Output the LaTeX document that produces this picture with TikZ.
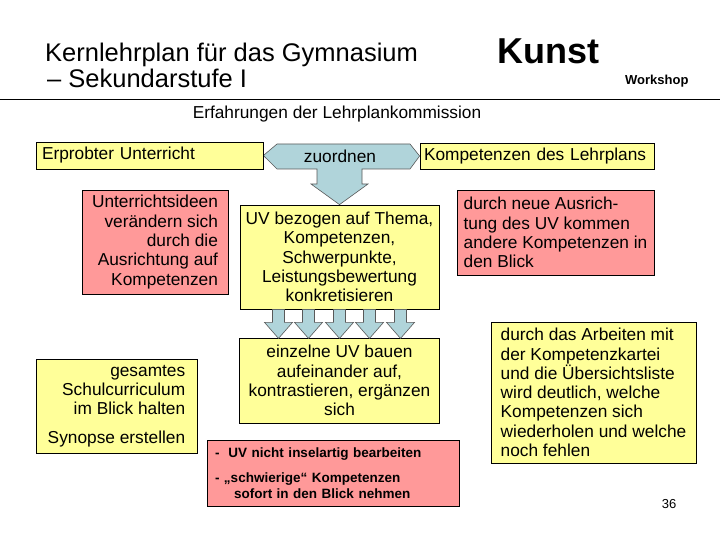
\documentclass[tikz,border=0pt]{standalone}
\usepackage{fontspec}
\setmainfont{Liberation Sans}
\usepackage{tikz}
\usetikzlibrary{positioning, calc, backgrounds}

\definecolor{lpyellow}{HTML}{FFFF99}
\definecolor{lpred}{HTML}{FF9999}
\definecolor{lpblue}{HTML}{B0D4DA}

\begin{document}
\begin{tikzpicture}[
    x=1pt, y=-1pt,
    txt/.style={font=\fontsize{17.3}{19.3}\selectfont},
    ybox/.style={rectangle, draw=black, line width=0.8pt, fill=lpyellow, inner sep=0pt, txt},
    rbox/.style={ybox, fill=lpred},
    plain/.style={inner sep=0pt, anchor=base west},
    blockarr/.style={draw=black!65, fill=lpblue, line width=0.6pt}
]
\useasboundingbox (0,0) rectangle (720,540);

% Header
\node[plain, font=\fontsize{25.5}{28}\selectfont] (title) at (45,62) {Kernlehrplan für das Gymnasium};
\node[plain, font=\fontsize{25.5}{28}\selectfont] (title2) at (47,88) {– Sekundarstufe I};
\node[plain, font=\fontsize{36}{40}\selectfont\bfseries] (kunst) at (497,64) {Kunst};
\node[plain, font=\fontsize{13}{15}\selectfont\bfseries] (workshop) at (625,85) {Workshop};
\draw[line width=0.8pt] (0,99) -- (720,99);
\node[plain, anchor=base, txt] (erfahr) at (337,119) {Erfahrungen der Lehrplankommission};

% Top row
\node[ybox, inner xsep=6pt, text width=215pt, align=left, minimum height=27pt] (erprobt) at (149.5,155.5) {Erprobter Unterricht};
\node[ybox, inner xsep=4pt, text width=226pt, align=left, minimum height=26pt] (komplp) at (537,156) {Kompetenzen des Lehrplans};
\node[txt, inner sep=0pt] (zuordnen) at (340,156) {zuordnen};

% Left column
\node[rbox, align=right, minimum width=146pt, minimum height=104pt] (ideen) at (155,242) {Unterrichtsideen\\verändern sich\\durch die\\Ausrichtung auf\\Kompetenzen};
\node[ybox, align=right, minimum width=161pt, minimum height=94pt] (gesamt) at (116.5,406) {gesamtes\\Schulcurriculum\\im Blick halten\\[9pt]Synopse erstellen};

% Middle column
\node[ybox, align=center, minimum width=199pt, minimum height=104pt] (uv) at (339.5,257) {UV bezogen auf Thema,\\Kompetenzen,\\Schwerpunkte,\\Leistungsbewertung\\konkretisieren};
\node[ybox, align=center, minimum width=200pt, minimum height=85pt] (einzeln) at (339.5,380.5) {einzelne UV bauen\\aufeinander auf,\\kontrastieren, ergänzen\\sich};
\node[rbox, font=\fontsize{13.5}{16}\selectfont\bfseries, inner xsep=8pt, text width=236pt, align=left, minimum height=66pt] (insel) at (333,473) {-\ \ UV nicht inselartig bearbeiten\\[9pt]- „schwierige“ Kompetenzen\\\hspace*{19pt}sofort in den Blick nehmen};

% Right column
\node[rbox, align=left, minimum width=197pt, minimum height=85pt] (neue) at (555.5,232.5) {durch neue Ausrich-\\tung des UV kommen\\andere Kompetenzen in\\den Blick};
\node[ybox, align=left, minimum width=205pt, minimum height=141pt] (kartei) at (593.5,392.5) {durch das Arbeiten mit\\der Kompetenzkartei\\und die Übersichtsliste\\wird deutlich, welche\\Kompetenzen sich\\wiederholen und welche\\noch fehlen};

\node[inner sep=0pt, font=\fontsize{13}{15}\selectfont] (seite) at (669,504) {36};

% zuordnen shape
\begin{scope}[on background layer]
\draw[blockarr] (erprobt.east) -- (277,144) -- (410,144) -- (komplp.west) -- (410,169)
    -- (362,169) -- (362,184) -- (368,184) -- (uv.north) -- (311,184) -- (317,184)
    -- (317,169) -- (277,169) -- cycle;
\end{scope}

% block arrows
\foreach \dx in {-61,-31,0,30,61}
  \draw[blockarr] ($(uv.south)+(\dx-6,0)$) -- ++(0,13) -- ++(-8,0) -- ++(14,16)
      -- ++(14,-16) -- ++(-8,0) -- ++(0,-13) -- cycle;

\end{tikzpicture}
\end{document}
